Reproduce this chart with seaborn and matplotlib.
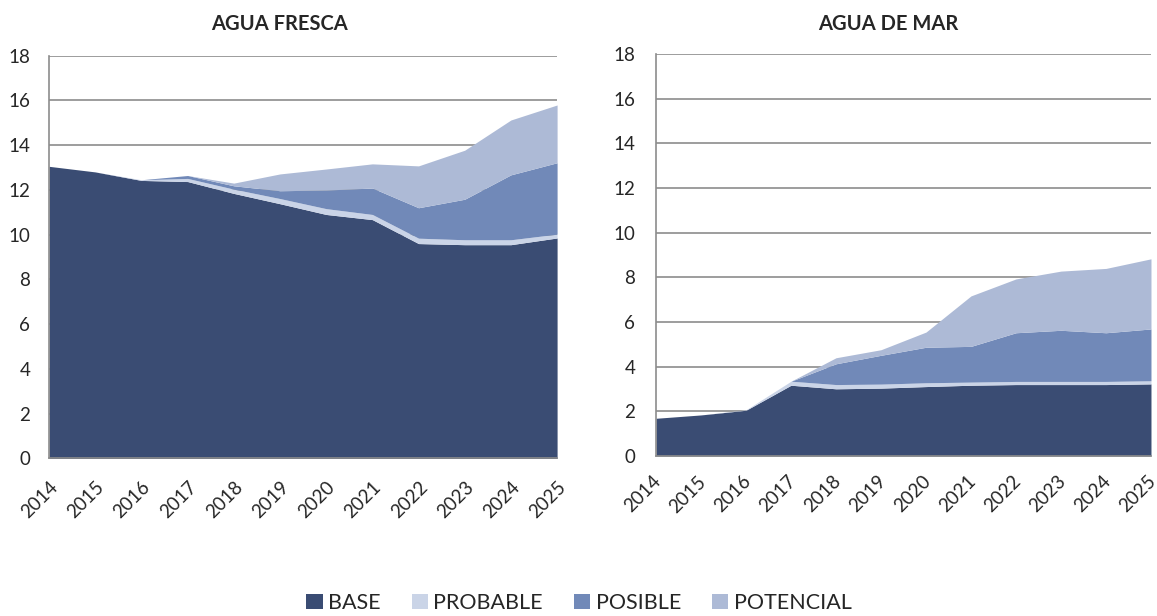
import numpy as np
import pandas as pd
import matplotlib
matplotlib.use("Agg")
import matplotlib.pyplot as plt
import matplotlib.transforms as mtransforms
from matplotlib.patches import Patch
import seaborn as sns

# ---------------------
# Data
# ---------------------
years = list(range(2014, 2026))
series_names = ["BASE", "PROBABLE", "POSIBLE", "POTENCIAL"]

# AGUA FRESCA (stacked increments)
fresca_base = [13.05, 12.80, 12.42, 12.37, 11.84, 11.38, 10.90, 10.67, 9.60, 9.55, 9.55, 9.85]
fresca_probable = [0.0, 0.0, 0.03, 0.14, 0.19, 0.23, 0.26, 0.23, 0.24, 0.22, 0.22, 0.17]
fresca_posible = [0.0, 0.0, 0.0, 0.13, 0.15, 0.35, 0.83, 1.18, 1.36, 1.81, 2.90, 3.19]
fresca_potencial = [0.0, 0.0, 0.0, 0.0, 0.12, 0.75, 0.94, 1.08, 1.87, 2.19, 2.45, 2.58]

# AGUA DE MAR (stacked increments)
mar_base = [1.69, 1.84, 2.05, 3.17, 3.01, 3.04, 3.11, 3.17, 3.20, 3.20, 3.20, 3.23]
mar_probable = [0.0, 0.0, 0.02, 0.18, 0.19, 0.18, 0.17, 0.14, 0.14, 0.14, 0.14, 0.14]
mar_posible = [0.0, 0.0, 0.0, 0.0, 0.93, 1.29, 1.59, 1.60, 2.18, 2.29, 2.18, 2.32]
mar_potencial = [0.0, 0.0, 0.0, 0.0, 0.27, 0.25, 0.68, 2.26, 2.41, 2.65, 2.88, 3.14]

colors = ["#3A4C73", "#CAD4E7", "#7189B8", "#ADBAD6"]
grid_color = "#8C8C8C"

df_fresca = pd.DataFrame({"year": years, "BASE": fresca_base, "PROBABLE": fresca_probable,
                          "POSIBLE": fresca_posible, "POTENCIAL": fresca_potencial})
df_mar = pd.DataFrame({"year": years, "BASE": mar_base, "PROBABLE": mar_probable,
                       "POSIBLE": mar_posible, "POTENCIAL": mar_potencial})

sns.set_style("white")
plt.rcParams["font.family"] = ["Lato", "DejaVu Sans"]

TICK_FS = 13.5


def draw_panel(ax, df, with_ticks, xpad, xshift=0.0):
    ax.stackplot(df["year"], *[df[c] for c in series_names], colors=colors,
                 linewidth=0, zorder=2)
    ax.set_xlim(years[0], years[-1])
    ax.set_ylim(0, 18)
    ax.set_yticks(range(0, 19, 2))
    ax.set_xticks(years)
    ax.set_xticklabels([str(y) for y in years], rotation=45, ha="right", va="top",
                       rotation_mode="anchor")
    ax.yaxis.grid(True, color=grid_color, linewidth=1.2)
    ax.set_axisbelow(True)
    for s in ["top", "right"]:
        ax.spines[s].set_visible(False)
    for s in ["left", "bottom"]:
        ax.spines[s].set_color(grid_color)
        ax.spines[s].set_linewidth(1.2)
    if with_ticks:
        ax.tick_params(axis="both", length=5, width=1.2, color=grid_color,
                       direction="out", labelsize=TICK_FS)
        ax.tick_params(axis="y", pad=10)
        ax.tick_params(axis="x", pad=xpad)
    else:
        ax.tick_params(axis="both", length=0, labelsize=TICK_FS)
        ax.tick_params(axis="y", pad=13.5)
        ax.tick_params(axis="x", pad=xpad)
    # nudge rotated year labels sideways (keeps the last one inside the figure)
    if xshift:
        offset = mtransforms.ScaledTranslation(xshift / 72, 0, ax.figure.dpi_scale_trans)
        for lbl in ax.get_xticklabels():
            lbl.set_transform(lbl.get_transform() + offset)
    ax.set_xlabel("")
    ax.set_ylabel("")


fig = plt.figure(figsize=(11.57, 6.16), dpi=100)
ax1 = fig.add_axes([0.0424, 0.2557, 0.4391, 0.6542])
ax2 = fig.add_axes([0.5670, 0.2597, 0.4278, 0.6526])

draw_panel(ax1, df_fresca, with_ticks=False, xpad=14)
draw_panel(ax2, df_mar, with_ticks=True, xpad=7, xshift=-3)

fig.text(279 / 1157, 1 - 24 / 616, "AGUA FRESCA", ha="center", va="center",
         fontsize=14.5, fontweight="bold")
fig.text(888 / 1157, 1 - 24 / 616, "AGUA DE MAR", ha="center", va="center",
         fontsize=14.5, fontweight="bold")

handles = [Patch(facecolor=c, edgecolor="none", label=n) for c, n in zip(colors, series_names)]
fig.legend(handles=handles, loc="center", bbox_to_anchor=(579 / 1157, 1 - 603 / 616),
           ncol=4, frameon=False, fontsize=15.5, handlelength=0.75, handleheight=0.75,
           handletextpad=0.25, columnspacing=1.45)

fig.savefig("out.png", dpi=100)
